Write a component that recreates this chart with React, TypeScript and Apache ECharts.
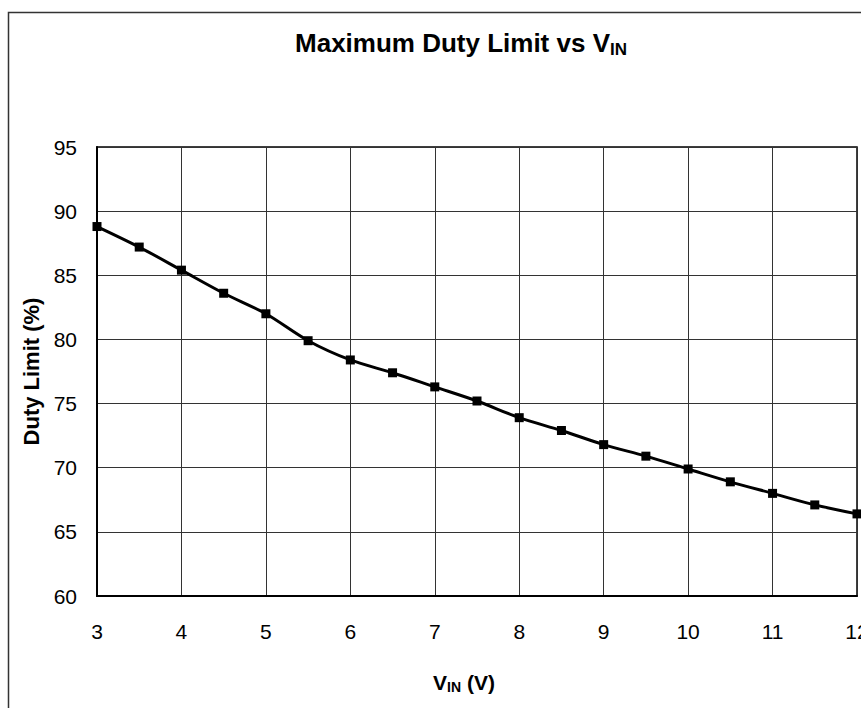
import React, { useEffect, useRef } from "react";
import * as echarts from "echarts";

const vin = [3, 3.5, 4, 4.5, 5, 5.5, 6, 6.5, 7, 7.5, 8, 8.5, 9, 9.5, 10, 10.5, 11, 11.5, 12];
const dutyLimit = [88.8, 87.2, 85.4, 83.6, 82.0, 79.9, 78.4, 77.4, 76.3, 75.2, 73.9, 72.9, 71.8, 70.9, 69.9, 68.9, 68.0, 67.1, 66.4];

const FONT = "'Liberation Sans Narrow', 'Arial Narrow', 'Liberation Sans', Arial, sans-serif";

export default function App() {
  const ref = useRef<HTMLDivElement>(null);
  useEffect(() => {
    if (!ref.current) return;
    const chart = echarts.init(ref.current, undefined, { renderer: "svg" });
    chart.setOption({
      animation: false,
      backgroundColor: "#ffffff",
      textStyle: { fontFamily: FONT },
      grid: {
        left: 97,
        right: 4,
        top: 147,
        bottom: 112,
        show: true,
        borderColor: "#000",
        borderWidth: 1.5,
        outerBoundsMode: "none",
        containLabel: false,
      },
      xAxis: {
        type: "value",
        min: 3,
        max: 12,
        interval: 1,
        axisLine: { show: true, onZero: false, lineStyle: { color: "#000", width: 2 } },
        axisTick: { show: false },
        axisLabel: { color: "#000", fontSize: 21, margin: 25, fontFamily: FONT, hideOverlap: false },
        splitLine: { show: true, lineStyle: { color: "#333", width: 1 } },
      },
      yAxis: {
        type: "value",
        min: 60,
        max: 95,
        interval: 5,
        name: "Duty Limit (%)",
        nameLocation: "middle",
        nameGap: 50,
        nameTextStyle: { color: "#000", fontSize: 22, fontWeight: "bold", fontFamily: FONT },
        axisLine: { show: true, lineStyle: { color: "#000", width: 2 } },
        axisTick: { show: false },
        axisLabel: { color: "#000", fontSize: 21, margin: 20, fontFamily: FONT },
        splitLine: { show: true, lineStyle: { color: "#333", width: 1 } },
      },
      series: [
        {
          type: "line",
          data: vin.map((v, i) => [v, dutyLimit[i]]),
          smooth: 0.3,
          symbol: "rect",
          symbolSize: 9,
          itemStyle: { color: "#000" },
          lineStyle: { color: "#000", width: 3 },
        },
      ],
      graphic: [
        {
          type: "rect",
          shape: { x: 8.5, y: 12.5, width: 1000, height: 1000 },
          style: { fill: "none", stroke: "#333", lineWidth: 1.5 },
          silent: true,
        },
        {
          type: "text",
          x: 461,
          y: 43,
          style: {
            text: "{a|Maximum Duty Limit vs V}{b|IN}",
            align: "center",
            verticalAlign: "middle",
            rich: {
              a: { fontSize: 26, fontWeight: "bold", fill: "#000", fontFamily: FONT },
              b: { fontSize: 17, fontWeight: "bold", fill: "#000", fontFamily: FONT, padding: [12, 0, 0, 0] },
            },
          },
        },
        {
          type: "text",
          x: 464,
          y: 682,
          style: {
            text: "{a|V}{b|IN}{a| (V)}",
            align: "center",
            verticalAlign: "middle",
            rich: {
              a: { fontSize: 21, fontWeight: "bold", fill: "#000", fontFamily: FONT },
              b: { fontSize: 14, fontWeight: "bold", fill: "#000", fontFamily: FONT, padding: [9, 0, 0, 0] },
            },
          },
        },
      ],
    });
    return () => chart.dispose();
  }, []);
  return <div ref={ref} style={{ position: "fixed", left: 0, top: 0, width: 861, height: 708 }} />;
}
